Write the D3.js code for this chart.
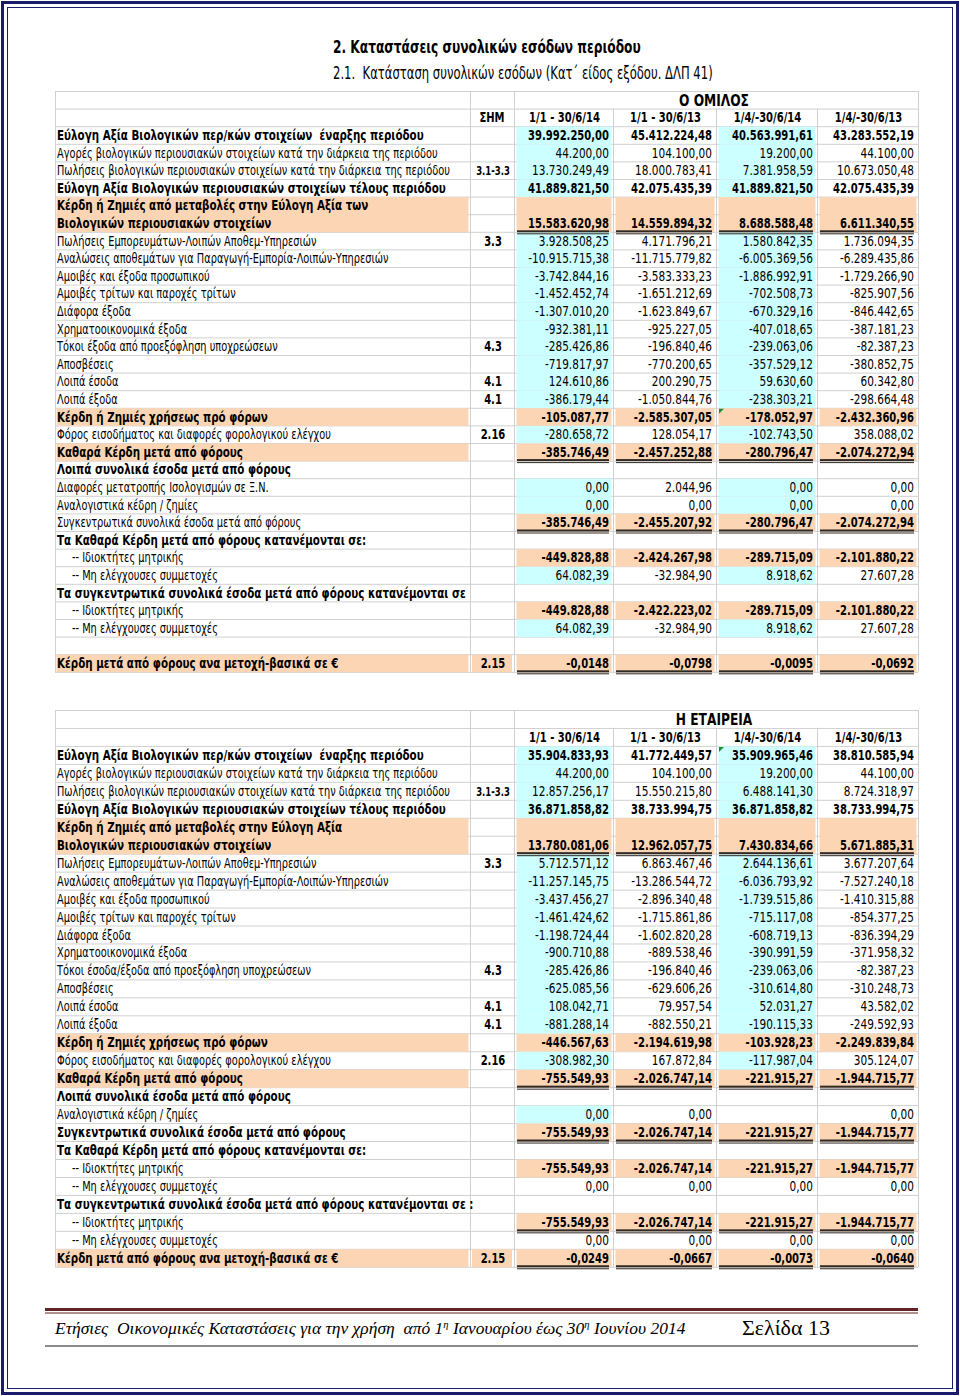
<!DOCTYPE html>
<html><head><meta charset="utf-8">
<script src="https://cdn.jsdelivr.net/npm/d3@7"></script>
<style>body{margin:0;background:#fff} svg{display:block} text{white-space:pre}</style>
</head><body><svg id="c" width="960" height="1396"></svg>
<script>
// ---------------- DATA ----------------
const periods = ["1/1 - 30/6/14", "1/1 - 30/6/13", "1/4/-30/6/14", "1/4/-30/6/13"];

const groupTitle = "Ο ΟΜΙΛΟΣ";
const groupLabels = [
  "Εύλογη Αξία Βιολογικών περ/κών στοιχείων  έναρξης περιόδου",
  "Αγορές βιολογικών περιουσιακών στοιχείων κατά την διάρκεια της περιόδου",
  "Πωλήσεις βιολογικών περιουσιακών στοιχείων κατά την διάρκεια της περιόδου",
  "Εύλογη Αξία Βιολογικών περιουσιακών στοιχείων τέλους περιόδου",
  "Κέρδη ή Ζημιές από μεταβολές στην Εύλογη Αξία των|Βιολογικών περιουσιακών στοιχείων",
  "Πωλήσεις Εμπορευμάτων-Λοιπών Αποθεμ-Υπηρεσιών",
  "Αναλώσεις αποθεμάτων για Παραγωγή-Εμπορία-Λοιπών-Υπηρεσιών",
  "Αμοιβές και έξοδα προσωπικού",
  "Αμοιβές τρίτων και παροχές τρίτων",
  "Διάφορα έξοδα",
  "Χρηματοοικονομικά έξοδα",
  "Τόκοι έξοδα από προεξόφληση υποχρεώσεων",
  "Αποσβέσεις",
  "Λοιπά έσοδα",
  "Λοιπά έξοδα",
  "Κέρδη ή Ζημιές χρήσεως πρό φόρων",
  "Φόρος εισοδήματος και διαφορές φορολογικού ελέγχου",
  "Καθαρά Κέρδη μετά από φόρους",
  "Λοιπά συνολικά έσοδα μετά από φόρους",
  "Διαφορές μετατροπής Ισολογισμών σε Ξ.Ν.",
  "Αναλογιστικά κέδρη / ζημίες",
  "Συγκεντρωτικά συνολικά έσοδα μετά από φόρους",
  "Τα Καθαρά Κέρδη μετά από φόρους κατανέμονται σε:",
  "-- Ιδιοκτήτες μητρικής",
  "-- Μη ελέγχουσες συμμετοχές",
  "Τα συγκεντρωτικά συνολικά έσοδα μετά από φόρους κατανέμονται σε",
  "-- Ιδιοκτήτες μητρικής",
  "-- Μη ελέγχουσες συμμετοχές",
  "",
  "Κέρδη μετά από φόρους ανα μετοχή-βασικά σε €"
];
const groupNotes = ["", "", "3.1-3.3", "", "", "3.3", "", "", "", "", "", "4.3", "", "4.1", "4.1", "", "2.16", "", "", "", "", "", "", "", "", "", "", "", "", "2.15"];
const group_H1_14 = [39992250.00, 44200.00, 13730249.49, 41889821.50, 15583620.98, 3928508.25, -10915715.38, -3742844.16, -1452452.74, -1307010.20, -932381.11, -285426.86, -719817.97, 124610.86, -386179.44, -105087.77, -280658.72, -385746.49, null, 0, 0, -385746.49, null, -449828.88, 64082.39, null, -449828.88, 64082.39, null, -0.0148];
const group_H1_13 = [45412224.48, 104100.00, 18000783.41, 42075435.39, 14559894.32, 4171796.21, -11715779.82, -3583333.23, -1651212.69, -1623849.67, -925227.05, -196840.46, -770200.65, 200290.75, -1050844.76, -2585307.05, 128054.17, -2457252.88, null, 2044.96, 0, -2455207.92, null, -2424267.98, -32984.90, null, -2422223.02, -32984.90, null, -0.0798];
const group_Q2_14 = [40563991.61, 19200.00, 7381958.59, 41889821.50, 8688588.48, 1580842.35, -6005369.56, -1886992.91, -702508.73, -670329.16, -407018.65, -239063.06, -357529.12, 59630.60, -238303.21, -178052.97, -102743.50, -280796.47, null, 0, 0, -280796.47, null, -289715.09, 8918.62, null, -289715.09, 8918.62, null, -0.0095];
const group_Q2_13 = [43283552.19, 44100.00, 10673050.48, 42075435.39, 6611340.55, 1736094.35, -6289435.86, -1729266.90, -825907.56, -846442.65, -387181.23, -82387.23, -380852.75, 60342.80, -298664.48, -2432360.96, 358088.02, -2074272.94, null, 0, 0, -2074272.94, null, -2101880.22, 27607.28, null, -2101880.22, 27607.28, null, -0.0692];

const companyTitle = "Η ΕΤΑΙΡΕΙΑ";
const companyLabels = [
  "Εύλογη Αξία Βιολογικών περ/κών στοιχείων  έναρξης περιόδου",
  "Αγορές βιολογικών περιουσιακών στοιχείων κατά την διάρκεια της περιόδου",
  "Πωλήσεις βιολογικών περιουσιακών στοιχείων κατά την διάρκεια της περιόδου",
  "Εύλογη Αξία Βιολογικών περιουσιακών στοιχείων τέλους περιόδου",
  "Κέρδη ή Ζημιές από μεταβολές στην Εύλογη Αξία|Βιολογικών περιουσιακών στοιχείων",
  "Πωλήσεις Εμπορευμάτων-Λοιπών Αποθεμ-Υπηρεσιών",
  "Αναλώσεις αποθεμάτων για Παραγωγή-Εμπορία-Λοιπών-Υπηρεσιών",
  "Αμοιβές και έξοδα προσωπικού",
  "Αμοιβές τρίτων και παροχές τρίτων",
  "Διάφορα έξοδα",
  "Χρηματοοικονομικά έξοδα",
  "Τόκοι έσοδα/έξοδα από προεξόφληση υποχρεώσεων",
  "Αποσβέσεις",
  "Λοιπά έσοδα",
  "Λοιπά έξοδα",
  "Κέρδη ή Ζημιές χρήσεως πρό φόρων",
  "Φόρος εισοδήματος και διαφορές φορολογικού ελέγχου",
  "Καθαρά Κέρδη μετά από φόρους",
  "Λοιπά συνολικά έσοδα μετά από φόρους",
  "Αναλογιστικά κέδρη / ζημίες",
  "Συγκεντρωτικά συνολικά έσοδα μετά από φόρους",
  "Τα Καθαρά Κέρδη μετά από φόρους κατανέμονται σε:",
  "-- Ιδιοκτήτες μητρικής",
  "-- Μη ελέγχουσες συμμετοχές",
  "Τα συγκεντρωτικά συνολικά έσοδα μετά από φόρους κατανέμονται σε :",
  "-- Ιδιοκτήτες μητρικής",
  "-- Μη ελέγχουσες συμμετοχές",
  "Κέρδη μετά από φόρους ανα μετοχή-βασικά σε €"
];
const companyNotes = ["", "", "3.1-3.3", "", "", "3.3", "", "", "", "", "", "4.3", "", "4.1", "4.1", "", "2.16", "", "", "", "", "", "", "", "", "", "", "2.15"];
const company_H1_14 = [35904833.93, 44200.00, 12857256.17, 36871858.82, 13780081.06, 5712571.12, -11257145.75, -3437456.27, -1461424.62, -1198724.44, -900710.88, -285426.86, -625085.56, 108042.71, -881288.14, -446567.63, -308982.30, -755549.93, null, 0, -755549.93, null, -755549.93, 0, null, -755549.93, 0, -0.0249];
const company_H1_13 = [41772449.57, 104100.00, 15550215.80, 38733994.75, 12962057.75, 6863467.46, -13286544.72, -2896340.48, -1715861.86, -1602820.28, -889538.46, -196840.46, -629606.26, 79957.54, -882550.21, -2194619.98, 167872.84, -2026747.14, null, 0, -2026747.14, null, -2026747.14, 0, null, -2026747.14, 0, -0.0667];
const company_Q2_14 = [35909965.46, 19200.00, 6488141.30, 36871858.82, 7430834.66, 2644136.61, -6036793.92, -1739515.86, -715117.08, -608719.13, -390991.59, -239063.06, -310614.80, 52031.27, -190115.33, -103928.23, -117987.04, -221915.27, null, null, -221915.27, null, -221915.27, 0, null, -221915.27, 0, -0.0073];
const company_Q2_13 = [38810585.94, 44100.00, 8724318.97, 38733994.75, 5671885.31, 3677207.64, -7527240.18, -1410315.88, -854377.25, -836394.29, -371958.32, -82387.23, -310248.73, 43582.02, -249592.93, -2249839.84, 305124.07, -1944715.77, null, 0, -1944715.77, null, -1944715.77, 0, null, -1944715.77, 0, -0.0640];

// row formatting codes (b bold label, v bold values, c cyan columns, L orange label,
// V orange values, N orange note, u double underline, 2 two-line row)
const groupStyles = ["bvc","c","c","bvc","bvLVu2","c","c","c","c","c","c","c","c","c","c","bvLV","c","bvLVu","b","c","c","vVu","b","vV","c","b","vV","c","","bvLVNu"];
const companyStyles = ["bvc","c","c","bvc","bvLVu2","c","c","c","c","c","c","c","c","c","c","bvLV","c","bvLVu","b","c","bvVu","b","vV","","b","vVu","","bvLVNu"];

// ---------------- LAYOUT ----------------
const svg = d3.select("#c");
const FONT = '"DejaVu Sans", Verdana, sans-serif';
const SERIF = '"Liberation Serif", "DejaVu Serif", serif';
const FS = 13.5;
const CYAN = "#ccffff", ORANGE = "#fcd5b4", GRID = "#d0d0d0", ULINE = "#2f2823";
const colKeys = ["c1", "c2", "c3", "c4"];
const colLeft = d3.scaleOrdinal().domain(colKeys).range([514, 613, 716, 817]);
const colRight = d3.scaleOrdinal().domain(colKeys).range([613, 716, 817, 918]);
const TL = 55, NOTE_L = 470, NOTE_R = 514, TR = 918;

const loc = d3.formatLocale({decimal: ",", thousands: ".", grouping: [3], currency: ["", "€"], minus: "-"});
const fmt2 = loc.format(",.2f"), fmt4 = loc.format(",.4f");

function measure(str, size, weight, family, style) {
  const t = svg.append("text").attr("font-size", size).attr("font-weight", weight)
    .attr("font-family", family).attr("font-style", style || "normal").text(str);
  const w = t.node().getComputedTextLength();
  t.remove();
  return w;
}
const sLabReg = 381 / measure("Αγορές βιολογικών περιουσιακών στοιχείων κατά την διάρκεια της περιόδου", FS, 400, FONT);
const sLabBold = 409 / measure("Τα συγκεντρωτικά συνολικά έσοδα μετά από φόρους κατανέμονται σε", FS, 700, FONT);
const sNumReg = 77 / measure("13.730.249,49", FS, 400, FONT);
const sNumBold = 81 / measure("39.992.250,00", FS, 700, FONT);

function txt(g, str, x, y, opt) {
  const t = g.append("text")
    .attr("transform", `translate(${x},${y}) scale(${opt.s || 1},1)`)
    .attr("font-family", opt.family || FONT)
    .attr("font-size", opt.size || FS)
    .attr("font-weight", opt.weight || 400)
    .attr("font-style", opt.style || "normal")
    .attr("text-anchor", opt.anchor || "start")
    .attr("fill", opt.fill || "#000")
    .text(str);
  return t;
}

// page border
svg.append("rect").attr("x", 2.5).attr("y", 2.5).attr("width", 955).attr("height", 1391)
  .attr("fill", "none").attr("stroke", "#1b1b6b").attr("stroke-width", 3);
svg.append("rect").attr("x", 7.5).attr("y", 7.5).attr("width", 945).attr("height", 1381)
  .attr("fill", "none").attr("stroke", "#1b1b6b").attr("stroke-width", 1);

// titles
const t1 = "2. Καταστάσεις συνολικών εσόδων περιόδου";
const t2 = "2.1.  Κατάσταση συνολικών εσόδων (Κατ΄ είδος εξόδου. ΔΛΠ 41)";
txt(svg, t1, 333, 53, {size: 17, weight: 700, s: 308 / measure(t1, 17, 700, FONT)});
txt(svg, t2, 333, 79, {size: 17, weight: 400, s: 380 / measure(t2, 17, 400, FONT)});

function drawTable(cfg) {
  const g = svg.append("g");
  const cols = cfg.cols;
  const rows = [];
  let idx = 0;
  cfg.labels.forEach((lab, i) => {
    const st = cfg.styles[i];
    const span = st.includes("2") ? 2 : 1;
    rows.push({i, lab, note: cfg.notes[i], vals: cols.map(c => c[i]), st, start: idx, span});
    idx += span;
  });
  const nRows = idx;
  const y = d3.scaleLinear().domain([-2, nRows]).range([cfg.top, cfg.top + (nRows + 2) * cfg.rowH]);
  const BO = cfg.rowH / 2 + 5;

  const grid = g.append("g"), fills = g.append("g"), lines = g.append("g"), texts = g.append("g");

  grid.selectAll("line.h").data(d3.range(-2, nRows + 1)).join("line")
    .attr("x1", TL).attr("x2", TR).attr("y1", d => y(d) + 0.5).attr("y2", d => y(d) + 0.5)
    .attr("stroke", GRID).attr("stroke-width", 1);
  const vFull = [TL, NOTE_L, NOTE_R, TR];
  grid.selectAll("line.vf").data(vFull).join("line").attr("class", "vf")
    .attr("x1", d => d + 0.5).attr("x2", d => d + 0.5).attr("y1", y(-2)).attr("y2", y(nRows))
    .attr("stroke", GRID);
  grid.selectAll("line.vp").data(colKeys.slice(1)).join("line").attr("class", "vp")
    .attr("x1", d => colLeft(d) + 0.5).attr("x2", d => colLeft(d) + 0.5).attr("y1", y(-1)).attr("y2", y(nRows))
    .attr("stroke", GRID);

  // header
  txt(texts, cfg.title, (colLeft("c1") + TR) / 2 - 2, y(-2) + cfg.rowH / 2 + 6,
      {size: 16.5, weight: 700, anchor: "middle", s: sNumBold});
  if (cfg.showNote) txt(texts, "ΣΗΜ", (NOTE_L + NOTE_R) / 2, y(-1) + BO,
      {weight: 700, anchor: "middle", s: sNumBold});
  colKeys.forEach((k, j) => {
    txt(texts, periods[j], (colLeft(k) + colRight(k)) / 2 + 1, y(-1) + BO,
        {weight: 700, anchor: "middle", s: sNumBold});
  });

  rows.forEach(r => {
    const top = y(r.start), bot = y(r.start + r.span);
    const base = y(r.start + r.span - 1) + BO;
    const st = r.st;
    if (st.includes("L")) fills.append("rect").attr("x", TL + 1.5).attr("y", top + 0.5)
      .attr("width", NOTE_L - TL - 3).attr("height", bot - top).attr("fill", ORANGE);
    if (st.includes("N")) fills.append("rect").attr("x", NOTE_L + 2).attr("y", top + 0.5)
      .attr("width", NOTE_R - NOTE_L - 4).attr("height", bot - top).attr("fill", ORANGE);
    colKeys.forEach((k, j) => {
      const v = r.vals[j];
      let f = null;
      if (st.includes("V")) f = ORANGE;
      else if (st.includes("c") && (j === 0 || j === 2) && v !== null) f = CYAN;
      if (f) fills.append("rect").attr("x", colLeft(k) + 2.5).attr("y", top + 0.5)
        .attr("width", colRight(k) - colLeft(k) - 4).attr("height", bot - top).attr("fill", f);
      if (st.includes("u")) {
        lines.append("rect").attr("x", colLeft(k) + 3).attr("y", bot - 1.5)
          .attr("width", colRight(k) - colLeft(k) - 7).attr("height", 2).attr("fill", ULINE);
        lines.append("rect").attr("x", colLeft(k) + 3).attr("y", bot + 1.5)
          .attr("width", colRight(k) - colLeft(k) - 7).attr("height", 1).attr("fill", ULINE);
      }
      if (v !== null && v !== undefined) {
        const s = Math.abs(v) < 1 && v !== 0 ? fmt4(v) : fmt2(v);
        const bold = st.includes("v");
        txt(texts, s, colRight(k) - 4, base, {weight: bold ? 700 : 400, anchor: "end", s: bold ? sNumBold : sNumReg});
      }
    });
    const boldL = st.includes("b");
    r.lab.split("|").forEach((p, pi) => {
      const lx = p.startsWith("--") ? 72 : 57;
      txt(texts, p, lx, y(r.start + pi) + BO,
          {weight: boldL ? 700 : 400, s: boldL ? sLabBold : sLabReg});
    });
    if (r.note) {
      txt(texts, r.note, (NOTE_L + NOTE_R) / 2 + 1, base,
          {weight: 700, anchor: "middle", size: r.note.length > 4 ? 11.5 : FS, s: sNumBold});
    }
  });

  (cfg.markers || []).forEach(([ri, k]) => {
    const r = rows[ri];
    const x0 = colLeft(k) + 3, y0 = y(r.start) + 1;
    g.append("path").attr("d", `M${x0},${y0}h5l-5,5z`).attr("fill", "#1f8f3a");
  });
}

drawTable({
  title: groupTitle, showNote: true, top: 91, rowH: 17.6,
  labels: groupLabels, notes: groupNotes, styles: groupStyles,
  cols: [group_H1_14, group_H1_13, group_Q2_14, group_Q2_13], markers: [[15, "c3"]]
});
drawTable({
  title: companyTitle, showNote: false, top: 710, rowH: 17.96,
  labels: companyLabels, notes: companyNotes, styles: companyStyles,
  cols: [company_H1_14, company_H1_13, company_Q2_14, company_Q2_13], markers: [[0, "c3"]]
});

// footer
svg.append("rect").attr("x", 45).attr("y", 1308).attr("width", 873).attr("height", 3).attr("fill", "#622423");
svg.append("rect").attr("x", 45).attr("y", 1312.5).attr("width", 873).attr("height", 1).attr("fill", "#622423");
svg.append("rect").attr("x", 45).attr("y", 1345).attr("width", 873).attr("height", 2).attr("fill", "#8a8a8a");

const ft = svg.append("text").attr("font-family", SERIF).attr("font-style", "italic").attr("font-size", 16.5);
ft.append("tspan").text("Ετήσιες  Οικονομικές Καταστάσεις για την χρήση  από 1");
ft.append("tspan").attr("dy", -6).attr("font-size", 10).text("η");
ft.append("tspan").attr("dy", 6).text(" Ιανουαρίου έως 30");
ft.append("tspan").attr("dy", -6).attr("font-size", 10).text("η");
ft.append("tspan").attr("dy", 6).text(" Ιουνίου 2014");
const fw = ft.node().getComputedTextLength();
ft.attr("transform", `translate(55,1334) scale(${631 / fw},1)`);

const pg = "Σελίδα 13";
txt(svg, pg, 742, 1335, {family: SERIF, size: 20, s: 88 / measure(pg, 20, 400, SERIF)});
</script>
</body></html>
